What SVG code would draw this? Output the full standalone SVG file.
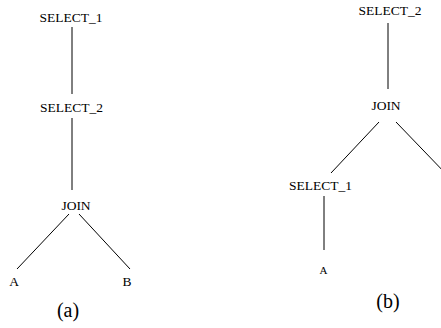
<svg xmlns="http://www.w3.org/2000/svg" width="441" height="328" viewBox="0 0 441 328">
  <style>
    text { font-family: "Liberation Serif", "Times New Roman", serif; fill: #000; text-anchor: middle; }
    .n { font-size: 13.5px; }
    .s { font-size: 11px; }
    .cap { font-size: 20px; }
    .edge { stroke: #000; stroke-width: 1; fill: none; }
  </style>
  <rect width="441" height="328" fill="#fff"/>

  <!-- connectors -->
  <g id="edges">
    <!-- tree (a) -->
    <line class="edge" x1="72" y1="27" x2="72" y2="94"/>
    <line class="edge" x1="72" y1="118" x2="72" y2="190"/>
    <line class="edge" x1="69" y1="214" x2="17" y2="269"/>
    <line class="edge" x1="79" y1="214" x2="130" y2="269"/>
    <!-- tree (b) -->
    <line class="edge" x1="388" y1="23" x2="388" y2="89"/>
    <line class="edge" x1="379" y1="122" x2="331" y2="173"/>
    <line class="edge" x1="396" y1="122" x2="448" y2="176"/>
    <line class="edge" x1="324" y1="196" x2="324" y2="250"/>
  </g>

  <!-- tree (a) nodes -->
  <g id="a-select1"><text class="n" x="71" y="22">SELECT_1</text></g>
  <g id="a-select2"><text class="n" x="71.5" y="112">SELECT_2</text></g>
  <g id="a-join"><text class="n" x="76" y="210">JOIN</text></g>
  <g id="a-A"><text class="n" x="14" y="285.5">A</text></g>
  <g id="a-B"><text class="n" x="127" y="285.5">B</text></g>
  <text class="cap" x="68" y="317">(a)</text>

  <!-- tree (b) nodes -->
  <g id="b-select2"><text class="n" x="390" y="15">SELECT_2</text></g>
  <g id="b-join"><text class="n" x="386" y="110">JOIN</text></g>
  <g id="b-select1"><text class="n" x="320.5" y="190">SELECT_1</text></g>
  <g id="b-A"><text class="s" x="323.5" y="273.5">A</text></g>
  <text class="cap" x="388" y="308">(b)</text>
</svg>
